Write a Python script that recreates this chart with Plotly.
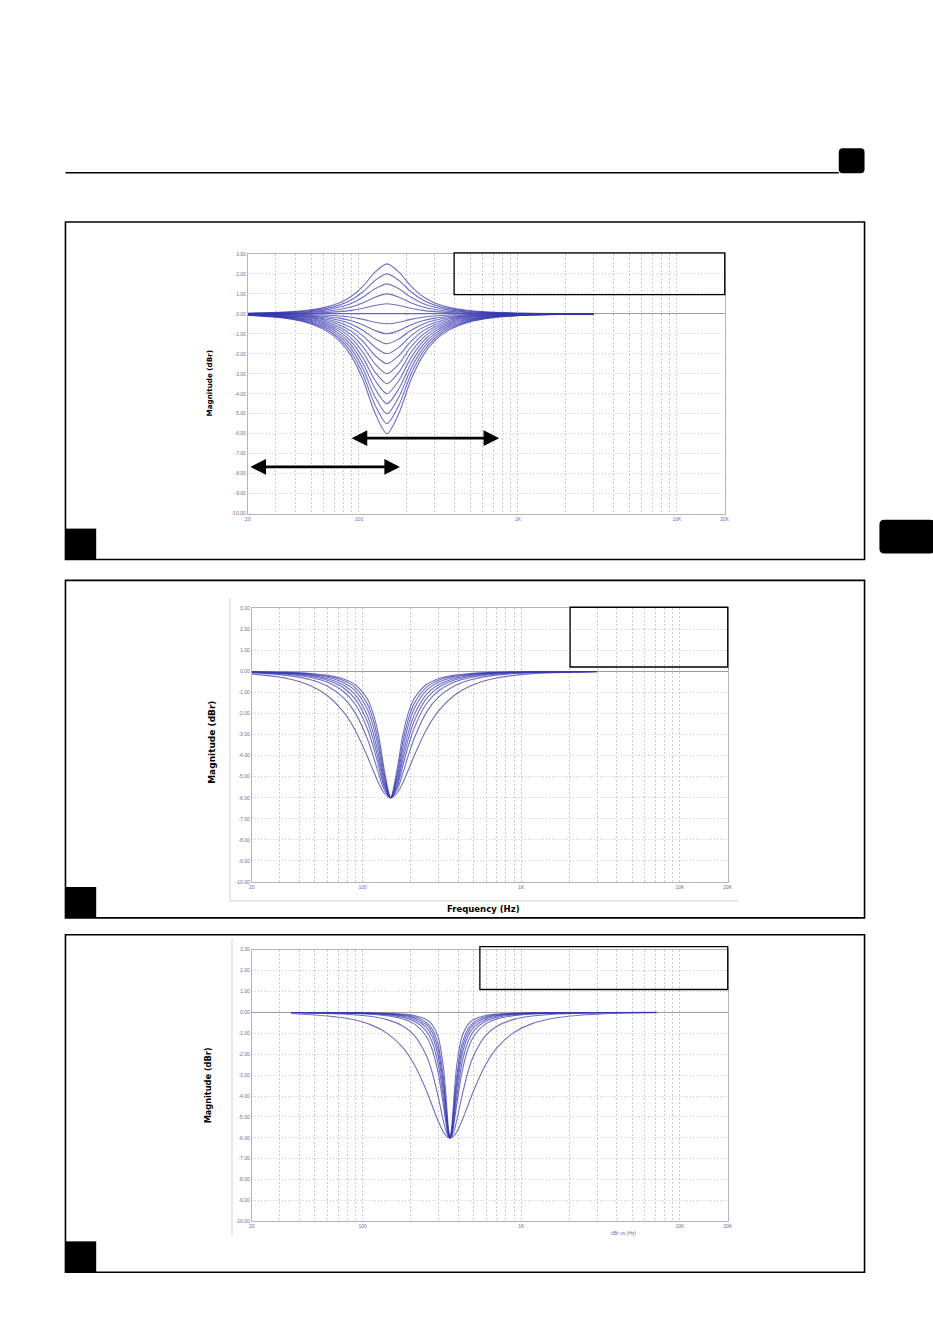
import numpy as np
import plotly.graph_objects as go

W, H = 933, 1324

# ---------------- data ----------------
# Panel 1: peaking filter family at ~150 Hz, gains +2.5 ... -6 dB
P1_FREQ = [20, 33.3, 46.9, 60, 75, 89.3, 106.4, 126.1, 150, 178.5, 211.5, 252, 300, 375, 480, 675, 1125, 3000]
P1_P2_5 = [0.029, 0.083, 0.175, 0.311, 0.544, 0.865, 1.394, 2.085, 2.500, 2.085, 1.394, 0.865, 0.544, 0.311, 0.175, 0.083, 0.029, 0.004]
P1_P2_0 = [0.023, 0.066, 0.139, 0.248, 0.434, 0.691, 1.115, 1.668, 2.000, 1.668, 1.115, 0.691, 0.434, 0.248, 0.139, 0.066, 0.023, 0.003]
P1_P1_5 = [0.017, 0.049, 0.104, 0.186, 0.325, 0.518, 0.837, 1.252, 1.500, 1.252, 0.837, 0.518, 0.325, 0.186, 0.104, 0.049, 0.017, 0.002]
P1_P1_0 = [0.011, 0.033, 0.069, 0.123, 0.216, 0.345, 0.558, 0.834, 1.000, 0.834, 0.558, 0.345, 0.216, 0.123, 0.069, 0.033, 0.011, 0.002]
P1_P0_5 = [0.006, 0.016, 0.035, 0.062, 0.108, 0.172, 0.279, 0.418, 0.500, 0.418, 0.279, 0.172, 0.108, 0.062, 0.035, 0.016, 0.006, 0.001]
P1_0_0 = [0.0, 0.0, 0.0, 0.0, 0.0, 0.0, 0.0, 0.0, 0.0, 0.0, 0.0, 0.0, 0.0, 0.0, 0.0, 0.0, 0.0, 0.0]
P1_M0_5 = [-0.006, -0.016, -0.035, -0.062, -0.108, -0.172, -0.279, -0.418, -0.500, -0.418, -0.279, -0.172, -0.108, -0.062, -0.035, -0.016, -0.006, -0.001]
P1_M1_0 = [-0.011, -0.033, -0.069, -0.123, -0.216, -0.345, -0.558, -0.834, -1.000, -0.834, -0.558, -0.345, -0.216, -0.123, -0.069, -0.033, -0.011, -0.002]
P1_M1_5 = [-0.017, -0.049, -0.104, -0.186, -0.325, -0.518, -0.837, -1.252, -1.500, -1.252, -0.837, -0.518, -0.325, -0.186, -0.104, -0.049, -0.017, -0.002]
P1_M2_0 = [-0.023, -0.066, -0.139, -0.248, -0.434, -0.691, -1.115, -1.668, -2.000, -1.668, -1.115, -0.691, -0.434, -0.248, -0.139, -0.066, -0.023, -0.003]
P1_M2_5 = [-0.029, -0.083, -0.175, -0.311, -0.544, -0.865, -1.394, -2.085, -2.500, -2.085, -1.394, -0.865, -0.544, -0.311, -0.175, -0.083, -0.029, -0.004]
P1_M3_0 = [-0.035, -0.100, -0.211, -0.375, -0.654, -1.040, -1.673, -2.500, -3.000, -2.500, -1.673, -1.040, -0.654, -0.375, -0.211, -0.100, -0.035, -0.005]
P1_M3_5 = [-0.041, -0.118, -0.247, -0.439, -0.765, -1.214, -1.950, -2.914, -3.500, -2.914, -1.950, -1.214, -0.765, -0.439, -0.247, -0.118, -0.041, -0.006]
P1_M4_0 = [-0.047, -0.135, -0.285, -0.504, -0.877, -1.390, -2.228, -3.327, -4.000, -3.327, -2.228, -1.390, -0.877, -0.504, -0.285, -0.135, -0.047, -0.006]
P1_M4_5 = [-0.053, -0.154, -0.323, -0.571, -0.991, -1.566, -2.506, -3.740, -4.500, -3.740, -2.506, -1.566, -0.991, -0.571, -0.323, -0.154, -0.053, -0.007]
P1_M5_0 = [-0.060, -0.172, -0.361, -0.639, -1.106, -1.744, -2.783, -4.150, -5.000, -4.150, -2.783, -1.744, -1.106, -0.639, -0.361, -0.172, -0.060, -0.008]
P1_M5_5 = [-0.066, -0.191, -0.401, -0.708, -1.223, -1.922, -3.059, -4.559, -5.500, -4.559, -3.059, -1.922, -1.223, -0.708, -0.401, -0.191, -0.066, -0.009]
P1_M6_0 = [-0.073, -0.211, -0.442, -0.778, -1.341, -2.103, -3.335, -4.967, -6.000, -4.967, -3.335, -2.103, -1.341, -0.778, -0.442, -0.211, -0.073, -0.010]

# Panel 2: -6 dB cut at ~150 Hz, several bandwidths
P2_FREQ = [20, 33.3, 46.9, 60, 75, 89.3, 106.4, 115.4, 126.1, 136.4, 150, 165, 178.5, 195, 211.5, 252, 300, 375, 480, 675, 1125, 3000]
P2_Q1_00 = [-0.117, -0.332, -0.678, -1.153, -1.884, -2.765, -3.989, -4.634, -5.308, -5.774, -6.000, -5.774, -5.308, -4.634, -3.989, -2.765, -1.884, -1.153, -0.678, -0.332, -0.117, -0.016]
P2_Q1_35 = [-0.065, -0.188, -0.395, -0.700, -1.221, -1.944, -3.160, -3.930, -4.861, -5.602, -6.000, -5.602, -4.861, -3.930, -3.160, -1.944, -1.221, -0.700, -0.395, -0.188, -0.065, -0.009]
P2_Q1_60 = [-0.046, -0.135, -0.287, -0.518, -0.929, -1.538, -2.671, -3.466, -4.523, -5.457, -6.000, -5.457, -4.523, -3.466, -2.671, -1.538, -0.929, -0.518, -0.287, -0.135, -0.046, -0.006]
P2_Q1_80 = [-0.037, -0.107, -0.230, -0.418, -0.762, -1.291, -2.340, -3.129, -4.254, -5.331, -6.000, -5.331, -4.254, -3.129, -2.340, -1.291, -0.762, -0.418, -0.230, -0.107, -0.037, -0.005]
P2_Q2_00 = [-0.030, -0.087, -0.188, -0.344, -0.634, -1.095, -2.057, -2.826, -3.992, -5.198, -6.000, -5.198, -3.992, -2.826, -2.057, -1.095, -0.634, -0.344, -0.188, -0.087, -0.030, -0.004]
P2_Q2_25 = [-0.024, -0.069, -0.149, -0.275, -0.514, -0.904, -1.761, -2.490, -3.678, -5.023, -6.000, -5.023, -3.678, -2.490, -1.761, -0.904, -0.514, -0.275, -0.149, -0.069, -0.024, -0.003]
P2_Q2_50 = [-0.019, -0.056, -0.122, -0.225, -0.424, -0.756, -1.517, -2.200, -3.383, -4.843, -6.000, -4.843, -3.383, -2.200, -1.517, -0.756, -0.424, -0.225, -0.122, -0.056, -0.019, -0.003]
P2_Q2_80 = [-0.015, -0.045, -0.097, -0.181, -0.344, -0.620, -1.282, -1.906, -3.058, -4.622, -6.000, -4.622, -3.058, -1.906, -1.282, -0.620, -0.344, -0.181, -0.097, -0.045, -0.015, -0.002]

# Panel 3: -6 dB cut at ~355 Hz, several bandwidths
P3_FREQ = [35.5, 78.9, 110.9, 142, 177.5, 211.3, 251.8, 273.1, 298.3, 322.7, 338.1, 346.3, 355, 363.9, 372.8, 390.5, 422.5, 461.5, 500.6, 596.4, 710, 887.5, 1136, 1597.5, 3550, 7100]
P3_Q1_1 = [-0.054, -0.278, -0.573, -0.990, -1.654, -2.494, -3.736, -4.430, -5.186, -5.729, -5.927, -5.981, -6.000, -5.981, -5.927, -5.729, -5.186, -4.430, -3.736, -2.494, -1.654, -0.990, -0.573, -0.278, -0.054, -0.013]
P3_Q2_0 = [-0.017, -0.087, -0.188, -0.344, -0.634, -1.095, -2.057, -2.826, -3.992, -5.198, -5.764, -5.937, -6.000, -5.937, -5.764, -5.198, -3.992, -2.826, -2.057, -1.095, -0.634, -0.344, -0.188, -0.087, -0.017, -0.004]
P3_Q3_0 = [-0.007, -0.039, -0.085, -0.159, -0.302, -0.549, -1.151, -1.736, -2.859, -4.474, -5.496, -5.861, -6.000, -5.861, -5.496, -4.474, -2.859, -1.736, -1.151, -0.549, -0.302, -0.159, -0.085, -0.039, -0.007, -0.002]
P3_Q3_5 = [-0.005, -0.029, -0.063, -0.117, -0.225, -0.415, -0.896, -1.391, -2.421, -4.110, -5.338, -5.813, -6.000, -5.813, -5.338, -4.110, -2.421, -1.391, -0.896, -0.415, -0.225, -0.117, -0.063, -0.029, -0.005, -0.001]
P3_Q4_0 = [-0.004, -0.022, -0.048, -0.090, -0.174, -0.323, -0.714, -1.133, -2.060, -3.762, -5.166, -5.758, -6.000, -5.758, -5.166, -3.762, -2.060, -1.133, -0.714, -0.323, -0.174, -0.090, -0.048, -0.022, -0.004, -0.001]
P3_Q4_5 = [-0.003, -0.018, -0.038, -0.072, -0.139, -0.259, -0.581, -0.936, -1.764, -3.436, -4.987, -5.698, -6.000, -5.698, -4.987, -3.436, -1.764, -0.936, -0.581, -0.259, -0.139, -0.072, -0.038, -0.018, -0.003, -0.001]
P3_Q5_0 = [-0.003, -0.014, -0.031, -0.058, -0.113, -0.212, -0.480, -0.784, -1.521, -3.134, -4.802, -5.632, -6.000, -5.632, -4.802, -3.134, -1.521, -0.784, -0.480, -0.212, -0.113, -0.058, -0.031, -0.014, -0.003, -0.001]
P3_Q6_0 = [-0.002, -0.010, -0.022, -0.041, -0.079, -0.149, -0.343, -0.570, -1.154, -2.610, -4.426, -5.486, -6.000, -5.486, -4.426, -2.610, -1.154, -0.570, -0.343, -0.149, -0.079, -0.041, -0.022, -0.010, -0.002, 0.000]

# Axis ticks
GRID_FREQ = [20, 30, 40, 50, 60, 70, 80, 90, 100, 200, 300, 400, 500, 600, 700, 800, 900,
             1000, 2000, 3000, 4000, 5000, 6000, 7000, 8000, 9000, 10000, 20000]
FREQ_LABELS = {20: "20", 100: "100", 1000: "1K", 10000: "10K", 20000: "20K"}
DB_TICKS = [3, 2, 1, 0, -1, -2, -3, -4, -5, -6, -7, -8, -9, -10]

# Arrows in panel 1 (frequency span, dB level)
ARROW_1 = (88, 762, -6.22)
ARROW_2 = (20.3, 181, -7.66)

# ---------------- figure ----------------
def px(x):
    return x / W

def py(y):
    return 1 - y / H

fig = go.Figure()

LINE = dict(color="rgba(55,55,175,0.72)", width=1.1)
panels = [
    ("x", "y", P1_FREQ, [P1_P2_5, P1_P2_0, P1_P1_5, P1_P1_0, P1_P0_5, P1_0_0, P1_M0_5, P1_M1_0,
                         P1_M1_5, P1_M2_0, P1_M2_5, P1_M3_0, P1_M3_5, P1_M4_0, P1_M4_5, P1_M5_0,
                         P1_M5_5, P1_M6_0]),
    ("x2", "y2", P2_FREQ, [P2_Q1_00, P2_Q1_35, P2_Q1_60, P2_Q1_80, P2_Q2_00, P2_Q2_25, P2_Q2_50, P2_Q2_80]),
    ("x3", "y3", P3_FREQ, [P3_Q1_1, P3_Q2_0, P3_Q3_0, P3_Q3_5, P3_Q4_0, P3_Q4_5, P3_Q5_0, P3_Q6_0]),
]
for xr, yr, freq, curves in panels:
    for c in curves:
        fig.add_trace(go.Scatter(x=freq, y=c, xaxis=xr, yaxis=yr, mode="lines",
                                 line=dict(shape="spline", smoothing=0.8, **LINE),
                                 showlegend=False, hoverinfo="skip"))

TICKFONT = dict(family="Liberation Sans, Arial", size=5, color="#6c6ca4")
GRIDC = "#cdcdcd"


def xaxis(dom, anchor):
    return dict(type="log", range=[np.log10(20), np.log10(20000)], domain=dom, anchor=anchor,
                tickmode="array", tickvals=GRID_FREQ,
                ticktext=[FREQ_LABELS.get(f, "") for f in GRID_FREQ],
                showgrid=True, gridcolor=GRIDC, griddash="2px,2px", gridwidth=1,
                showline=True, linecolor="#b4b4b4", linewidth=1, mirror=True,
                ticks="", tickfont=TICKFONT, zeroline=False, fixedrange=True)


def yaxis(dom, anchor):
    return dict(range=[-10, 3], domain=dom, anchor=anchor,
                tickmode="array", tickvals=DB_TICKS, ticktext=["%.2f" % v for v in DB_TICKS],
                showgrid=True, gridcolor=GRIDC, griddash="1px,2px", gridwidth=1,
                showline=True, linecolor="#b4b4b4", linewidth=1, mirror=True,
                ticks="", tickfont=TICKFONT, zeroline=True, zerolinecolor="#9c9c9c",
                zerolinewidth=1.2, fixedrange=True)


fig.update_layout(
    width=W, height=H, autosize=False,
    margin=dict(l=0, r=0, t=0, b=0),
    paper_bgcolor="white", plot_bgcolor="white",
    xaxis=xaxis([px(247), px(728)], "y"),
    yaxis=yaxis([py(513), py(252)], "x"),
    xaxis2=xaxis([px(251), px(731)], "y2"),
    yaxis2=yaxis([py(883), py(608)], "x2"),
    xaxis3=xaxis([px(251), px(731)], "y3"),
    yaxis3=yaxis([py(1224), py(951)], "x3"),
)

shapes = []


def rect(x0, y0, x1, y1, color="black", width=1.5, fill=None):
    d = dict(type="rect", xref="paper", yref="paper", x0=px(x0), x1=px(x1), y0=py(y1), y1=py(y0),
             line=dict(color=color, width=width))
    if fill:
        d["fillcolor"] = fill
    shapes.append(d)


def line(x0, y0, x1, y1, color="black", width=1.5):
    shapes.append(dict(type="line", xref="paper", yref="paper", x0=px(x0), x1=px(x1),
                       y0=py(y0), y1=py(y1), line=dict(color=color, width=width)))


def rounded(x0, y0, x1, y1, r):
    rx, ry = r / W, r / H
    X0, X1, Y0, Y1 = px(x0), px(x1), py(y1), py(y0)
    p = (f"M {X0+rx},{Y0} L {X1-rx},{Y0} Q {X1},{Y0} {X1},{Y0+ry} L {X1},{Y1-ry} "
         f"Q {X1},{Y1} {X1-rx},{Y1} L {X0+rx},{Y1} Q {X0},{Y1} {X0},{Y1-ry} "
         f"L {X0},{Y0+ry} Q {X0},{Y0} {X0+rx},{Y0} Z")
    shapes.append(dict(type="path", xref="paper", yref="paper", path=p,
                       fillcolor="black", line=dict(color="black", width=0)))


# page header
line(63, 170.5, 843, 170.5, width=1.5)
rounded(843, 146, 869, 171, 4)
rounded(884, 519, 940, 553, 5)

# panel frames
for (y0, y1) in [(220, 559), (580, 919), (936, 1275)]:
    rect(63, y0, 869, y1, width=1.6)
    rect(63, y1 - 31, 94, y1, width=0, fill="black")

# empty caption boxes inside plots
rect(455, 251, 728, 293, width=1.3)
rect(572, 607, 731, 667, width=1.3)
rect(481, 948, 731, 991, width=1.3)

# faint outer frame of the pasted screenshots
line(229, 598, 229, 902, color="#d2d2d2", width=1)
line(229, 902, 742, 902, color="#d2d2d2", width=1)
line(231, 940, 231, 1238, color="#d2d2d2", width=1)

fig.update_layout(shapes=shapes)

ann = []
YLAB = dict(family="DejaVu Sans", color="black")
for (x, y, s) in [(208, 382, 7.2), (210, 743, 9), (207, 1087, 8.2)]:
    ann.append(dict(xref="paper", yref="paper", x=px(x), y=py(y), text="<b>Magnitude (dBr)</b>",
                    textangle=-90, showarrow=False, font=dict(size=s, **YLAB),
                    xanchor="center", yanchor="middle"))
ann.append(dict(xref="paper", yref="paper", x=px(485), y=py(910), text="<b>Frequency (Hz)</b>",
                showarrow=False, font=dict(size=8.5, **YLAB), xanchor="center", yanchor="middle"))
ann.append(dict(xref="paper", yref="paper", x=px(626), y=py(1236), text="dBr vs (Hz)",
                showarrow=False, font=dict(family="Liberation Sans", size=5, color="#6c6cb4"),
                xanchor="center", yanchor="middle"))

for f0, f1, lvl in [ARROW_1, ARROW_2]:
    ann.append(dict(xref="x", yref="y", axref="x", ayref="y",
                    x=np.log10(f1), y=lvl, ax=np.log10(f0), ay=lvl, text="",
                    showarrow=True, arrowhead=2, arrowside="end+start", arrowsize=1.2,
                    arrowwidth=2.6, arrowcolor="black", standoff=0, startstandoff=0))

fig.update_layout(annotations=ann)

fig.write_html("out.html")
